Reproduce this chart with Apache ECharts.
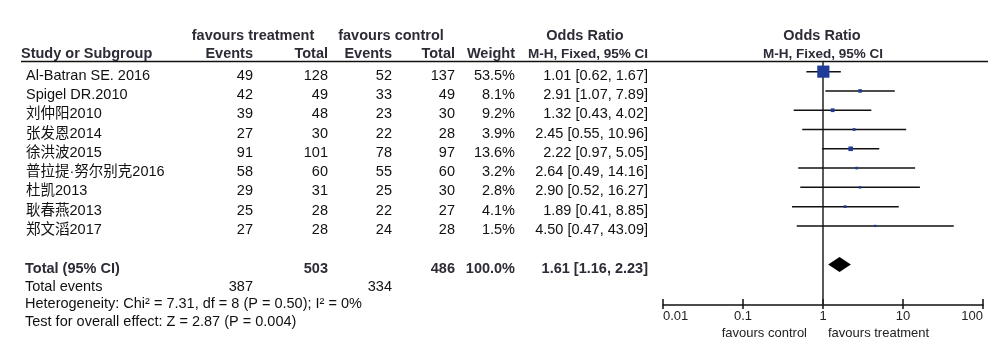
<!DOCTYPE html>
<html>
<head>
<meta charset="utf-8">
<script src="https://cdn.jsdelivr.net/npm/echarts@6/dist/echarts.min.js"></script>
<style>
html,body{margin:0;padding:0;background:#fff;}
#c{width:1000px;height:354px;}
</style>
</head>
<body>
<div id="c"></div>
<script>
// ---- data ----
var studies = ['Al-Batran SE. 2016','Spigel DR.2010','刘仲阳2010','张发恩2014','徐洪波2015','普拉提·努尔别克2016','杜凯2013','耿春燕2013','郑文滔2017'];
var eventsT = [49,42,39,27,91,58,29,25,27];
var totalT  = [128,49,48,30,101,60,31,28,28];
var eventsC = [52,33,23,22,78,55,25,22,24];
var totalC  = [137,49,30,28,97,60,30,27,28];
var weights = [53.5,8.1,9.2,3.9,13.6,3.2,2.8,4.1,1.5];
var oddsRatio = [1.01,2.91,1.32,2.45,2.22,2.64,2.90,1.89,4.50];
var ciLow  = [0.62,1.07,0.43,0.55,0.97,0.49,0.52,0.41,0.47];
var ciHigh = [1.67,7.89,4.02,10.96,5.05,14.16,16.27,8.85,43.09];
var pooled = [1.61,1.16,2.23];          // OR, low, high
var pooledTotals = [503,486];           // treatment total, control total
var pooledEvents = [387,334];
var xTicks = [0.01,0.1,1,10,100];
var tickLabels = ['0.01','0.1','1','10','100'];
var heterogeneity = 'Heterogeneity: Chi² = 7.31, df = 8 (P = 0.50); I² = 0%';
var overallTest = 'Test for overall effect: Z = 2.87 (P = 0.004)';

var FONT = '"Liberation Sans", Arial, "Noto Sans CJK SC", sans-serif';
var POOLED_ROW = 10;
var FS = 14.5;

var chart = echarts.init(document.getElementById('c'), null, {renderer:'canvas'});

var studyData = studies.map(function(s,i){ return [oddsRatio[i], i, ciLow[i], ciHigh[i], weights[i]]; });

var option = {
  animation:false,
  backgroundColor:'#fff',
  grid:{left:663, width:320, top:62, height:243},
  xAxis:[{
    type:'log', logBase:10, min:0.01, max:100, position:'bottom',
    axisLine:{show:true, onZero:false, lineStyle:{color:'#111', width:1.5}},
    axisTick:{show:true, inside:false, length:4, lineStyle:{color:'#111', width:1.5}},
    axisLabel:{show:true, margin:5, fontSize:13, color:'#222', fontFamily:FONT,
      alignMinLabel:'left', alignMaxLabel:'right',
      formatter:function(v){ var i = xTicks.indexOf(+v.toPrecision(3)); return i>=0 ? tickLabels[i] : ''; }},
    splitLine:{show:false}
  },{
    type:'log', logBase:10, min:0.01, max:100, position:'bottom', gridIndex:0,
    axisLine:{show:false, onZero:false},
    axisTick:{show:true, inside:true, length:6, lineStyle:{color:'#111', width:1.5}},
    axisLabel:{show:false},
    splitLine:{show:false}
  }],
  yAxis:{type:'value', inverse:true, min:-0.5, max:12.1, show:false},
  series:[
    { // line of no effect
      type:'line', xAxisIndex:0, data:[[1,-0.5],[1,12.1]], symbol:'none',
      lineStyle:{color:'#222', width:1.5}, silent:true, z:1
    },
    { // study CIs and squares
      type:'custom', xAxisIndex:0, data:studyData, z:3,
      renderItem:function(params, api){
        var y = api.value(1);
        var pLo = api.coord([api.value(2), y]);
        var pHi = api.coord([api.value(3), y]);
        var pC = api.coord([api.value(0), y]);
        var s = 2 + api.value(4)*0.19;
        return {type:'group', children:[
          {type:'line', shape:{x1:pLo[0], y1:pLo[1], x2:pHi[0], y2:pHi[1]}, style:{stroke:'#111', lineWidth:1.5}},
          {type:'rect', shape:{x:pC[0]-s/2, y:pC[1]-s/2, width:s, height:s}, style:{fill:'#1f3c98'}}
        ]};
      }
    },
    { // pooled diamond
      type:'custom', xAxisIndex:0, data:[[pooled[0], POOLED_ROW, pooled[1], pooled[2]]], z:3,
      renderItem:function(params, api){
        var y = api.value(1);
        var l = api.coord([api.value(2), y]);
        var r = api.coord([api.value(3), y]);
        var c = api.coord([api.value(0), y]);
        var h = 7.5;
        return {type:'polygon', shape:{points:[[l[0],l[1]],[c[0],c[1]-h],[r[0],r[1]],[c[0],c[1]+h]]}, style:{fill:'#000'}};
      }
    }
  ]
};
chart.setOption(option);

// ---- table text ----
function rowY(r){ return chart.convertToPixel({gridIndex:0}, [1, r])[1] + 4; }
var g = [];
function txt(str, x, y, align, opts){
  opts = opts || {};
  g.push({type:'text', x:x, y:y, silent:true, style:{
    text:str, x:0, y:0, textAlign:align, textVerticalAlign:'middle',
    font:(opts.bold?'bold ':'') + (opts.size||FS) + 'px ' + FONT,
    fill:opts.color || '#111'
  }});
}
var HEAD = '#2e2a36';
var col = {name:26, evT:253, totT:328, evC:392, totC:455, w:515, or:648};
var H1 = 35.5, H2 = 54;

// headers
txt('favours treatment', 253, H1, 'center', {bold:true, color:HEAD});
txt('favours control', 391, H1, 'center', {bold:true, color:HEAD});
txt('Odds Ratio', 585, H1, 'center', {bold:true, color:HEAD});
txt('Odds Ratio', 822, H1, 'center', {bold:true, color:HEAD});
txt('Study or Subgroup', 21, H2, 'left', {bold:true, color:HEAD});
txt('Events', col.evT, H2, 'right', {bold:true, color:HEAD});
txt('Total', col.totT, H2, 'right', {bold:true, color:HEAD});
txt('Events', col.evC, H2, 'right', {bold:true, color:HEAD});
txt('Total', col.totC, H2, 'right', {bold:true, color:HEAD});
txt('Weight', col.w, H2, 'right', {bold:true, color:HEAD});
txt('M-H, Fixed, 95% CI', col.or, H2, 'right', {bold:true, color:HEAD, size:13.5});
txt('M-H, Fixed, 95% CI', 823, H2, 'center', {bold:true, color:HEAD, size:13.5});

// rows
studies.forEach(function(s,i){
  var y = rowY(i);
  txt(s, col.name, y, 'left');
  txt(String(eventsT[i]), col.evT, y, 'right');
  txt(String(totalT[i]), col.totT, y, 'right');
  txt(String(eventsC[i]), col.evC, y, 'right');
  txt(String(totalC[i]), col.totC, y, 'right');
  txt(weights[i].toFixed(1)+'%', col.w, y, 'right');
  txt(oddsRatio[i].toFixed(2)+' ['+ciLow[i].toFixed(2)+', '+ciHigh[i].toFixed(2)+']', col.or, y, 'right');
});

// totals
var yT = rowY(POOLED_ROW);
txt('Total (95% CI)', 25, yT, 'left', {bold:true, color:HEAD});
txt(String(pooledTotals[0]), col.totT, yT, 'right', {bold:true, color:HEAD});
txt(String(pooledTotals[1]), col.totC, yT, 'right', {bold:true, color:HEAD});
txt('100.0%', col.w, yT, 'right', {bold:true, color:HEAD});
txt(pooled[0].toFixed(2)+' ['+pooled[1].toFixed(2)+', '+pooled[2].toFixed(2)+']', col.or, yT, 'right', {bold:true, color:HEAD});
var yE = rowY(10.95);
txt('Total events', 25, yE, 'left');
txt(String(pooledEvents[0]), col.evT, yE, 'right');
txt(String(pooledEvents[1]), col.evC, yE, 'right');
txt(heterogeneity, 25, rowY(11.82), 'left');
txt(overallTest, 25, rowY(12.78), 'left');

// favours labels under axis
var x1 = chart.convertToPixel({xAxisIndex:0}, 1);
txt('favours control', x1 - 16, 333, 'right', {size:13, color:'#222'});
txt('favours treatment', x1 + 5, 333, 'left', {size:13, color:'#222'});

// header rule
g.push({type:'line', silent:true, shape:{x1:21, y1:61.5, x2:988, y2:61.5}, style:{stroke:'#111', lineWidth:1.5}});

chart.setOption({graphic:{elements:g}});
</script>
</body>
</html>
